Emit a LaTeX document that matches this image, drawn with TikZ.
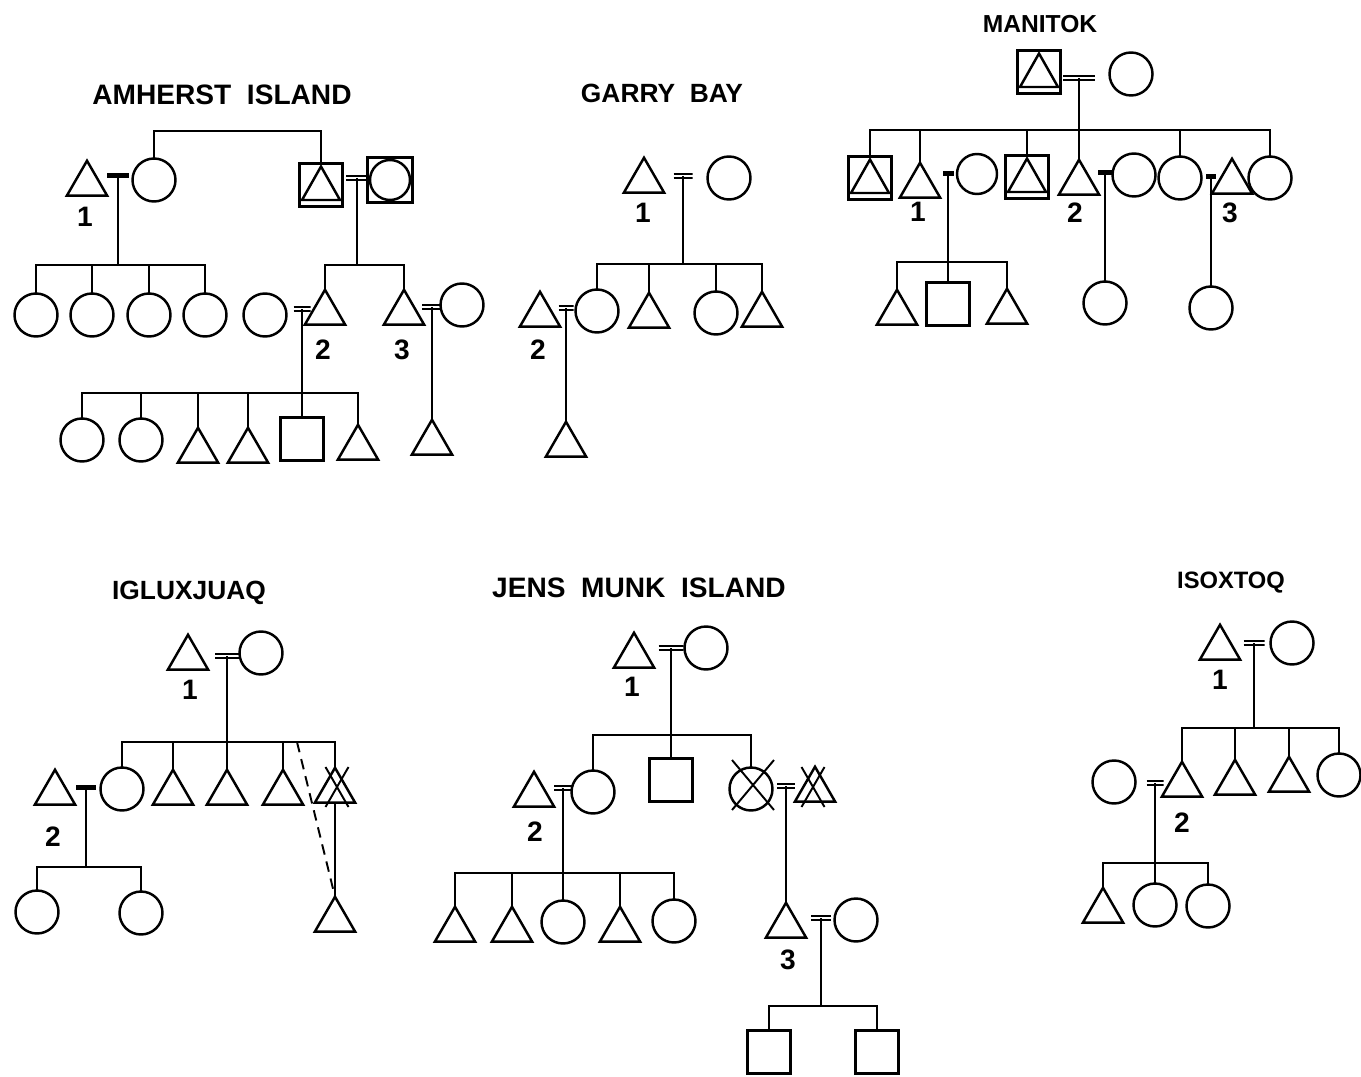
\documentclass[tikz,border=0pt]{standalone}
\usepackage{fontspec}
\setmainfont{Liberation Sans}
\usetikzlibrary{shapes.geometric, shapes.misc}

\begin{document}
\begin{tikzpicture}[x=0.02cm, y=-0.02cm,
            hombre/.style={regular polygon, regular polygon sides=3, draw, line width=1.4pt, minimum size=0.93cm, inner sep=0pt, outer sep=0pt},
            mujer/.style={circle, draw, line width=1.4pt, minimum size=0.86cm, inner sep=0pt, outer sep=0pt},
            nino/.style={rectangle, draw, line width=1.4pt, minimum size=0.86cm, inner sep=0pt, outer sep=0pt},
            hombrecaja/.style={nino, path picture={\draw[line width=1.4pt] ([shift={(-0.38cm,-0.3cm)}]path picture bounding box.center) -- ([shift={(0.38cm,-0.3cm)}]path picture bounding box.center) -- ([shift={(0cm,0.37cm)}]path picture bounding box.center) -- cycle;}},
            mujercaja/.style={nino, minimum size=0.9cm, path picture={\draw[line width=1.4pt] (path picture bounding box.center) circle (0.4cm);}},
            cruz/.style={cross out, draw, line width=1.1pt, inner sep=0pt, outer sep=0pt},
            casado/.style={inner sep=0pt, outer sep=0pt, minimum height=0.14cm, path picture={\draw[line width=1pt] ([yshift=0.038cm]path picture bounding box.west) -- ([yshift=0.038cm]path picture bounding box.east) ([yshift=-0.038cm]path picture bounding box.west) -- ([yshift=-0.038cm]path picture bounding box.east);}},
            union/.style={rectangle, fill=black, inner sep=0pt, outer sep=0pt, minimum height=0.1cm},
            titulo/.style={font=\bfseries\fontsize{16}{18}\selectfont},
            num/.style={font=\bfseries\fontsize{16}{18}\selectfont},
            linea/.style={line width=1.1pt},
            discontinua/.style={linea, dashed, dash pattern=on 6pt off 4pt}
        ]
            \useasboundingbox (0, 0) rectangle (1361, 1077);

            % Amherst Island
            \node[titulo] (a_tit) at (222, 95) {AMHERST\ \ ISLAND};
            \node[hombre] (a_t1) at (87, 184) {};
            \node[union, minimum width=0.44cm] (a_u1) at (118, 176) {};
            \node[mujer] (a_c1) at (154, 180) {};
            \node[num] (a_n1) at (85, 217) {1};
            \node[hombrecaja] (a_st1) at (321, 185) {};
            \node[casado, minimum width=0.44cm] (a_m2) at (357, 178) {};
            \node[mujercaja] (a_sc1) at (390, 180) {};
            \coordinate (a_r) at (237, 131);
            \draw[linea] (a_c1.north) |- (a_r) -| (a_st1.north);

            % hijas de 1
            \coordinate (a_b1) at (118, 265);
            \node[mujer] (a_h1) at (36, 315) {};
            \node[mujer] (a_h2) at (92, 315) {};
            \node[mujer] (a_h3) at (149, 315) {};
            \node[mujer] (a_h4) at (205, 315) {};
            \draw[linea] (a_u1.center) -- (a_b1);
            \draw[linea] (a_b1) -| (a_h1.north);
            \draw[linea] (a_b1) -| (a_h2.north);
            \draw[linea] (a_b1) -| (a_h3.north);
            \draw[linea] (a_b1) -| (a_h4.north);

            % hijos de la pareja de la derecha
            \coordinate (a_b2) at (357, 265);
            \node[mujer] (a_c2) at (265, 315) {};
            \node[casado, minimum width=0.34cm] (a_m3) at (302, 309) {};
            \node[hombre] (a_t2) at (325, 313) {};
            \node[num] (a_n2) at (323, 350) {2};
            \node[hombre] (a_t3) at (404, 313) {};
            \node[casado, minimum width=0.4cm] (a_m4) at (432, 307) {};
            \node[mujer] (a_c3) at (462, 305) {};
            \node[num] (a_n3) at (402, 350) {3};
            \draw[linea] (a_m2.center) -- (a_b2);
            \draw[linea] (a_b2) -| (a_t2.north);
            \draw[linea] (a_b2) -| (a_t3.north);

            % hijos de 2 y de 3
            \coordinate (a_b3) at (302, 393);
            \node[mujer] (a_g1) at (82, 440) {};
            \node[mujer] (a_g2) at (141, 440) {};
            \node[hombre] (a_g3) at (198, 451) {};
            \node[hombre] (a_g4) at (248, 451) {};
            \node[nino] (a_g5) at (302, 439) {};
            \node[hombre] (a_g6) at (358, 448) {};
            \node[hombre] (a_g7) at (432, 443) {};
            \draw[linea] (a_m3.center) -- (a_b3);
            \draw[linea] (a_b3) -| (a_g1.north);
            \draw[linea] (a_b3) -| (a_g2.north);
            \draw[linea] (a_b3) -| (a_g3.north);
            \draw[linea] (a_b3) -| (a_g4.north);
            \draw[linea] (a_b3) -- (a_g5.north);
            \draw[linea] (a_b3) -| (a_g6.north);
            \draw[linea] (a_m4.center) -- (a_g7.north);

            % Garry Bay
            \node[titulo, font=\bfseries\fontsize{15}{18}\selectfont] (g_tit) at (662, 93) {GARRY\ \ BAY};
            \node[hombre] (g_t1) at (644, 181) {};
            \node[casado, minimum width=0.38cm] (g_m1) at (683, 176) {};
            \node[mujer] (g_c1) at (729, 178) {};
            \node[num] (g_n1) at (643, 213) {1};
            \coordinate (g_b1) at (683, 264);
            \node[mujer] (g_h1) at (597, 311) {};
            \node[hombre] (g_h2) at (649, 316) {};
            \node[mujer] (g_h3) at (716, 313) {};
            \node[hombre] (g_h4) at (762, 315) {};
            \draw[linea] (g_m1.center) -- (g_b1);
            \draw[linea] (g_b1) -| (g_h1.north);
            \draw[linea] (g_b1) -| (g_h2.north);
            \draw[linea] (g_b1) -| (g_h3.north);
            \draw[linea] (g_b1) -| (g_h4.north);
            \node[hombre] (g_t2) at (540, 315) {};
            \node[casado, minimum width=0.3cm] (g_m2) at (566, 308) {};
            \node[num] (g_n2) at (538, 350) {2};
            \node[hombre] (g_g1) at (566, 445) {};
            \draw[linea] (g_m2.center) -- (g_g1.north);

            % Manitok
            \node[titulo, font=\bfseries\fontsize{14}{16}\selectfont] (m_tit) at (1040, 24) {MANITOK};
            \node[hombrecaja] (m_st0) at (1039, 72) {};
            \node[casado, minimum width=0.64cm] (m_m0) at (1079, 78) {};
            \node[mujer] (m_c0) at (1131, 74) {};
            \coordinate (m_b0) at (1079, 130);
            \node[hombrecaja] (m_st1) at (870, 178) {};
            \node[hombre] (m_t1) at (920, 186) {};
            \node[union, minimum width=0.22cm] (m_u1) at (948, 174) {};
            \node[mujer, minimum size=0.8cm] (m_c1) at (977, 174) {};
            \node[hombrecaja] (m_st2) at (1027, 177) {};
            \node[hombre] (m_t2) at (1079, 183) {};
            \node[union, minimum width=0.28cm] (m_u2) at (1105, 173) {};
            \node[mujer] (m_c2) at (1134, 175) {};
            \node[mujer] (m_c3) at (1180, 178) {};
            \node[union, minimum width=0.2cm] (m_u3) at (1211, 177) {};
            \node[hombre] (m_t3) at (1232, 182) {};
            \node[mujer] (m_c4) at (1270, 178) {};
            \node[num] (m_n1) at (918, 212) {1};
            \node[num] (m_n2) at (1075, 213) {2};
            \node[num] (m_n3) at (1230, 213) {3};
            \draw[linea] (m_m0.center) -- (m_b0);
            \draw[linea] (m_b0) -| (m_st1.north);
            \draw[linea] (m_b0) -| (m_t1.north);
            \draw[linea] (m_b0) -| (m_st2.north);
            \draw[linea] (m_b0) -- (m_t2.north);
            \draw[linea] (m_b0) -| (m_c3.north);
            \draw[linea] (m_b0) -| (m_c4.north);

            % hijos de 1, 2 y 3
            \coordinate (m_b1) at (948, 262);
            \node[hombre] (m_g1) at (897, 313) {};
            \node[nino] (m_g2) at (948, 304) {};
            \node[hombre] (m_g3) at (1007, 312) {};
            \node[mujer] (m_g4) at (1105, 303) {};
            \node[mujer] (m_g5) at (1211, 308) {};
            \draw[linea] (m_u1.center) -- (m_b1);
            \draw[linea] (m_b1) -| (m_g1.north);
            \draw[linea] (m_b1) -- (m_g2.north);
            \draw[linea] (m_b1) -| (m_g3.north);
            \draw[linea] (m_u2.center) -- (m_g4.north);
            \draw[linea] (m_u3.center) -- (m_g5.north);

            % Igluxjuaq
            \node[titulo, font=\bfseries\fontsize{15}{18}\selectfont] (i_tit) at (189, 593) {IGLUXJUAQ};
            \node[hombre] (i_t1) at (188, 658) {};
            \node[casado, minimum width=0.48cm] (i_m1) at (227, 656) {};
            \node[mujer] (i_c1) at (261, 653) {};
            \node[num] (i_n1) at (190, 690) {1};
            \coordinate (i_b1) at (227, 742);
            \node[mujer] (i_h1) at (122, 789) {};
            \node[hombre] (i_h2) at (173, 793) {};
            \node[hombre] (i_h3) at (227, 793) {};
            \node[hombre] (i_h4) at (283, 793) {};
            \node[hombre] (i_h5) at (335, 791) {};
            \node[cruz, minimum width=0.46cm, minimum height=0.8cm] (i_x5) at (337, 787) {};
            \draw[linea] (i_m1.center) -- (i_b1);
            \draw[linea] (i_b1) -| (i_h1.north);
            \draw[linea] (i_b1) -| (i_h2.north);
            \draw[linea] (i_b1) -- (i_h3.north);
            \draw[linea] (i_b1) -| (i_h4.north);
            \draw[linea] (i_b1) -| (i_h5.north);
            \coordinate (i_d) at (297, 742);
            \node[hombre] (i_n) at (335, 920) {};
            \draw[linea] (i_h5.south) -- (i_n.north);
            \draw[discontinua] (i_d) -- (i_n.north);

            % hijas de 2
            \node[hombre] (i_t2) at (55, 793) {};
            \node[union, minimum width=0.4cm] (i_u2) at (86, 787) {};
            \node[num] (i_n2) at (53, 837) {2};
            \coordinate (i_b2) at (86, 867);
            \node[mujer] (i_g1) at (37, 912) {};
            \node[mujer] (i_g2) at (141, 913) {};
            \draw[linea] (i_u2.center) -- (i_b2);
            \draw[linea] (i_b2) -| (i_g1.north);
            \draw[linea] (i_b2) -| (i_g2.north);

            % Jens Munk Island
            \node[titulo] (j_tit) at (639, 588) {JENS\ \ MUNK\ \ ISLAND};
            \node[hombre] (j_t1) at (634, 656) {};
            \node[casado, minimum width=0.5cm] (j_m1) at (671, 648) {};
            \node[mujer] (j_c1) at (706, 648) {};
            \node[num] (j_n1) at (632, 687) {1};
            \coordinate (j_b1) at (671, 735);
            \node[mujer] (j_h1) at (593, 792) {};
            \node[nino] (j_h2) at (671, 780) {};
            \node[mujer] (j_h3) at (751, 789) {};
            \node[cruz, minimum width=0.84cm, minimum height=1cm] (j_x3) at (753, 785) {};
            \draw[linea] (j_m1.center) -- (j_b1);
            \draw[linea] (j_b1) -| (j_h1.north);
            \draw[linea] (j_b1) -- (j_h2.north);
            \draw[linea] (j_b1) -| (j_h3.north);
            \node[casado, minimum width=0.36cm] (j_m3) at (786, 786) {};
            \node[hombre] (j_t4) at (815, 790) {};
            \node[cruz, minimum width=0.46cm, minimum height=0.8cm] (j_x4) at (813, 787) {};

            % hijos de 2
            \node[hombre] (j_t2) at (534, 795) {};
            \node[casado, minimum width=0.36cm] (j_m2) at (563, 788) {};
            \node[num] (j_n2) at (535, 832) {2};
            \coordinate (j_b2) at (563, 873);
            \node[hombre] (j_g1) at (455, 930) {};
            \node[hombre] (j_g2) at (512, 930) {};
            \node[mujer] (j_g3) at (563, 922) {};
            \node[hombre] (j_g4) at (620, 930) {};
            \node[mujer] (j_g5) at (674, 921) {};
            \draw[linea] (j_m2.center) -- (j_b2);
            \draw[linea] (j_b2) -| (j_g1.north);
            \draw[linea] (j_b2) -| (j_g2.north);
            \draw[linea] (j_b2) -- (j_g3.north);
            \draw[linea] (j_b2) -| (j_g4.north);
            \draw[linea] (j_b2) -| (j_g5.north);

            % 3 y sus hijos
            \node[hombre] (j_t3) at (786, 926) {};
            \node[casado, minimum width=0.4cm] (j_m4) at (821, 918) {};
            \node[mujer] (j_c3) at (856, 920) {};
            \node[num] (j_n3) at (788, 960) {3};
            \draw[linea] (j_m3.center) -- (j_t3.north);
            \coordinate (j_b3) at (821, 1006);
            \node[nino] (j_g6) at (769, 1052) {};
            \node[nino] (j_g7) at (877, 1052) {};
            \draw[linea] (j_m4.center) -- (j_b3);
            \draw[linea] (j_b3) -| (j_g6.north);
            \draw[linea] (j_b3) -| (j_g7.north);

            % Isoxtoq
            \node[titulo, font=\bfseries\fontsize{13.5}{16}\selectfont] (s_tit) at (1231, 583) {ISOXTOQ};
            \node[hombre] (s_t1) at (1220, 648) {};
            \node[casado, minimum width=0.42cm] (s_m1) at (1254, 643) {};
            \node[mujer] (s_c1) at (1292, 643) {};
            \node[num] (s_n1) at (1220, 680) {1};
            \coordinate (s_b1) at (1254, 728);
            \node[hombre] (s_h1) at (1182, 785) {};
            \node[hombre] (s_h2) at (1235, 783) {};
            \node[hombre] (s_h3) at (1289, 780) {};
            \node[mujer] (s_h4) at (1339, 775) {};
            \draw[linea] (s_m1.center) -- (s_b1);
            \draw[linea] (s_b1) -| (s_h1.north);
            \draw[linea] (s_b1) -| (s_h2.north);
            \draw[linea] (s_b1) -| (s_h3.north);
            \draw[linea] (s_b1) -| (s_h4.north);

            % hijos de 2
            \node[mujer] (s_c2) at (1114, 782) {};
            \node[casado, minimum width=0.34cm] (s_m2) at (1155, 783) {};
            \node[num] (s_n2) at (1182, 823) {2};
            \coordinate (s_b2) at (1155, 863);
            \node[hombre] (s_g1) at (1103, 911) {};
            \node[mujer] (s_g2) at (1155, 905) {};
            \node[mujer] (s_g3) at (1208, 906) {};
            \draw[linea] (s_m2.center) -- (s_b2);
            \draw[linea] (s_b2) -| (s_g1.north);
            \draw[linea] (s_b2) -- (s_g2.north);
            \draw[linea] (s_b2) -| (s_g3.north);

        \end{tikzpicture}
\end{document}
